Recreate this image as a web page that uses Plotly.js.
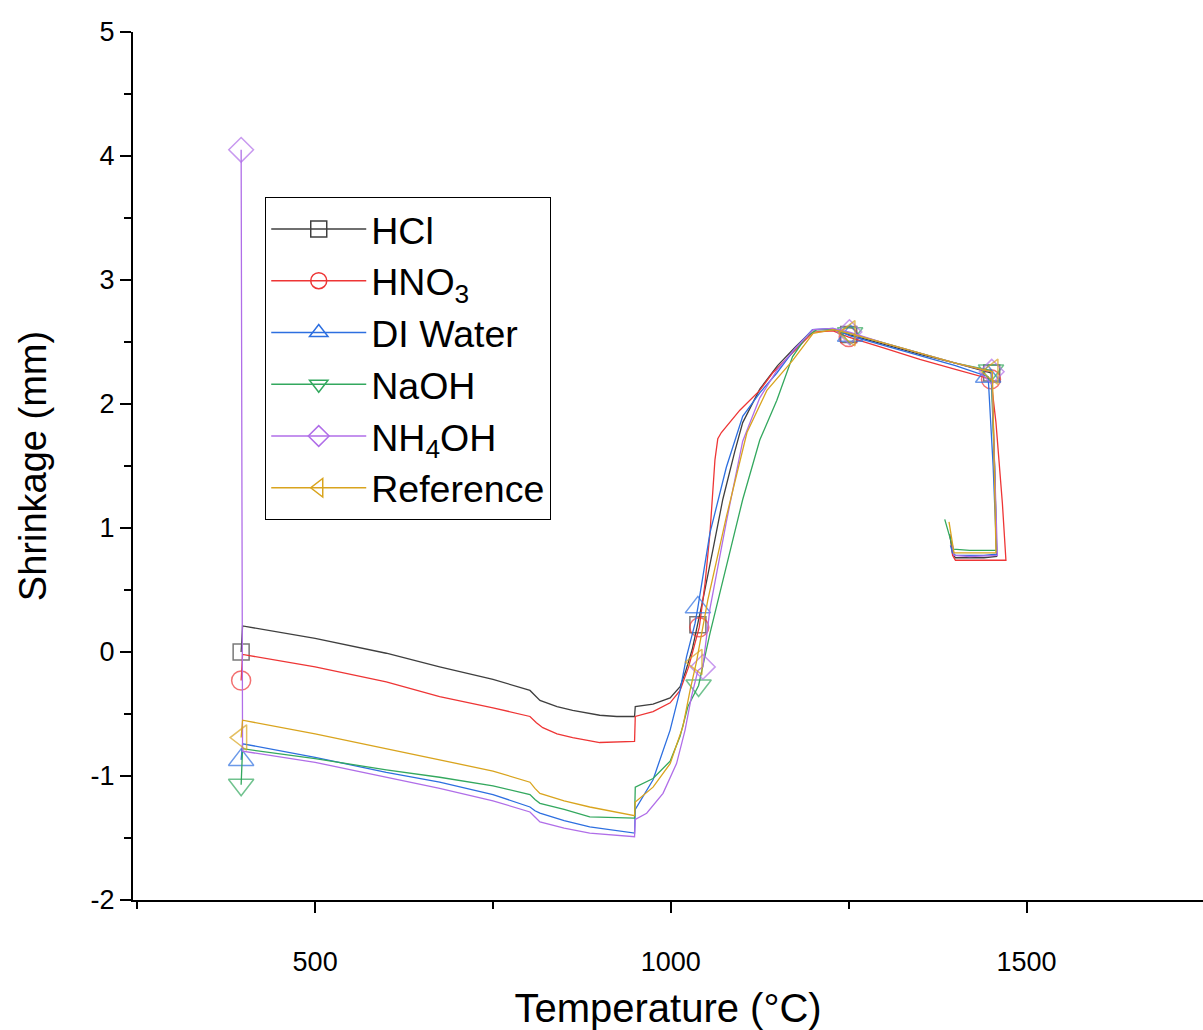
<!DOCTYPE html>
<html>
<head>
<meta charset="utf-8">
<script src="https://cdn.plot.ly/plotly-3.0.1.min.js"></script>
<style>
  html, body { margin: 0; padding: 0; background: #ffffff; }
  #chart { width: 1203px; height: 1030px; }
</style>
</head>
<body>
<div id="chart"></div>
<script>
// ---- Data ----
const seriesNames = ["HCl", "HNO<sub>3</sub>", "DI Water", "NaOH", "NH<sub>4</sub>OH", "Reference"];

const hclT = [396, 398, 500, 600, 675, 750, 802, 809, 816, 840, 862, 900, 924, 949, 950, 975, 999, 1013, 1020, 1030, 1038, 1045, 1060, 1073, 1090, 1101, 1125, 1150, 1175, 1200, 1228, 1250, 1300, 1350, 1400, 1451, 1455, 1458, 1440, 1400, 1396, 1392];
const hclS = [0.00, 0.21, 0.11, -0.01, -0.12, -0.22, -0.31, -0.35, -0.39, -0.44, -0.47, -0.51, -0.52, -0.52, -0.44, -0.42, -0.37, -0.28, -0.17, 0.02, 0.22, 0.42, 0.85, 1.23, 1.62, 1.85, 2.12, 2.31, 2.46, 2.60, 2.60, 2.56, 2.48, 2.40, 2.33, 2.25, 1.50, 0.77, 0.76, 0.76, 0.79, 0.95];
const hclMarks = [0, 20, 31, 35];

const hno3T = [396, 398, 500, 600, 675, 750, 802, 811, 820, 840, 862, 900, 949, 950, 975, 999, 1013, 1025, 1040, 1048, 1055, 1062, 1066, 1071, 1097, 1125, 1143, 1171, 1200, 1228, 1250, 1300, 1350, 1400, 1450, 1457, 1466, 1471, 1440, 1400, 1396, 1394];
const hno3S = [-0.23, -0.02, -0.12, -0.24, -0.36, -0.45, -0.52, -0.57, -0.61, -0.66, -0.69, -0.73, -0.72, -0.52, -0.48, -0.41, -0.31, -0.12, 0.20, 0.55, 0.96, 1.55, 1.72, 1.77, 1.95, 2.11, 2.25, 2.41, 2.58, 2.59, 2.54, 2.45, 2.36, 2.28, 2.20, 1.85, 1.20, 0.74, 0.74, 0.74, 0.78, 0.90];
const hno3Marks = [0, 18, 30, 34];

const diT = [396, 398, 500, 600, 675, 750, 802, 809, 816, 850, 886, 949, 950, 975, 999, 1013, 1022, 1034, 1038, 1055, 1078, 1101, 1125, 1149, 1175, 1199, 1228, 1252, 1300, 1350, 1400, 1446, 1453, 1458, 1440, 1400, 1396, 1393];
const diS = [-0.87, -0.74, -0.85, -0.97, -1.05, -1.15, -1.25, -1.28, -1.30, -1.36, -1.41, -1.46, -1.27, -1.03, -0.63, -0.31, -0.04, 0.23, 0.36, 0.96, 1.49, 1.90, 2.09, 2.25, 2.45, 2.60, 2.61, 2.55, 2.47, 2.39, 2.31, 2.22, 1.50, 0.79, 0.78, 0.78, 0.80, 0.86];
const diMarks = [0, 18, 27, 31];

const naohT = [396, 398, 500, 600, 675, 750, 802, 809, 816, 850, 886, 949, 950, 975, 999, 1013, 1024, 1039, 1055, 1078, 1101, 1125, 1149, 1171, 1190, 1205, 1228, 1252, 1300, 1350, 1400, 1450, 1455, 1458, 1420, 1397, 1385];
const naohS = [-1.07, -0.78, -0.86, -0.95, -1.01, -1.08, -1.15, -1.19, -1.22, -1.27, -1.33, -1.34, -1.09, -1.02, -0.88, -0.68, -0.44, -0.27, 0.15, 0.69, 1.23, 1.71, 2.03, 2.38, 2.54, 2.60, 2.60, 2.57, 2.49, 2.41, 2.33, 2.27, 1.50, 0.82, 0.82, 0.83, 1.07];
const naohMarks = [0, 17, 27, 31];

const nh4ohT = [396, 398, 500, 600, 675, 750, 802, 809, 816, 850, 886, 949, 950, 966, 989, 1008, 1020, 1029, 1038, 1045, 1055, 1078, 1101, 1125, 1150, 1175, 1200, 1228, 1251, 1300, 1350, 1400, 1451, 1455, 1459, 1420, 1398, 1396];
const nh4ohS = [4.05, -0.80, -0.89, -1.01, -1.10, -1.20, -1.29, -1.33, -1.37, -1.42, -1.46, -1.49, -1.35, -1.30, -1.14, -0.90, -0.63, -0.36, -0.15, -0.12, 0.35, 1.05, 1.70, 2.05, 2.28, 2.45, 2.60, 2.61, 2.58, 2.49, 2.41, 2.33, 2.26, 1.50, 0.78, 0.77, 0.78, 0.86];
const nh4ohMarks = [0, 19, 28, 32];

const refT = [396, 398, 500, 600, 675, 750, 802, 809, 816, 850, 886, 949, 950, 975, 999, 1017, 1027, 1036, 1052, 1078, 1107, 1135, 1171, 1200, 1228, 1251, 1300, 1350, 1400, 1452, 1455, 1457, 1420, 1398, 1391];
const refS = [-0.69, -0.55, -0.66, -0.78, -0.87, -0.96, -1.05, -1.10, -1.14, -1.20, -1.25, -1.32, -1.21, -1.09, -0.90, -0.60, -0.31, -0.08, 0.42, 1.09, 1.77, 2.11, 2.35, 2.57, 2.60, 2.57, 2.49, 2.41, 2.33, 2.26, 1.50, 0.80, 0.80, 0.80, 1.05];
const refMarks = [0, 17, 25, 29];

const xTickVals = [500, 1000, 1500];
const xTickText = ["500", "1000", "1500"];
const yTickVals = [-2, -1, 0, 1, 2, 3, 4, 5];
const yTickText = ["-2", "-1", "0", "1", "2", "3", "4", "5"];

// ---- Styles ----
const FONT = '"Liberation Sans", Arial, Helvetica, sans-serif';
const styles = [
  { color: '#3f3f3f', symbol: 'square-open',        size: 16 },
  { color: '#ee3535', symbol: 'circle-open',        size: 19 },
  { color: '#2d6fe0', symbol: 'triangle-up-open',   size: 22 },
  { color: '#33a85e', symbol: 'triangle-down-open', size: 22 },
  { color: '#b06ee8', symbol: 'diamond-open',       size: 19 },
  { color: '#d9a41e', symbol: 'triangle-left-open', size: 22 }
];
const dataSets = [
  [hclT, hclS, hclMarks],
  [hno3T, hno3S, hno3Marks],
  [diT, diS, diMarks],
  [naohT, naohS, naohMarks],
  [nh4ohT, nh4ohS, nh4ohMarks],
  [refT, refS, refMarks]
];

const traces = [];
dataSets.forEach(([xs, ys, marks], i) => {
  const st = styles[i];
  const sizes = xs.map((_, k) => marks.includes(k) ? st.size : 0);
  traces.push({
    type: 'scatter', mode: 'lines+markers',
    x: xs, y: ys, name: seriesNames[i],
    legendgroup: 'g' + i, showlegend: false,
    line: { color: st.color, width: 1.3 },
    marker: { symbol: st.symbol, size: sizes, color: st.color, line: { width: 1.5, color: st.color } },
    hoverinfo: 'skip'
  });
});
// legend entries (no data of their own)
dataSets.forEach((_, i) => {
  const st = styles[i];
  traces.push({
    type: 'scatter', mode: 'lines+markers',
    x: [null], y: [null], name: seriesNames[i],
    legendgroup: 'g' + i, showlegend: true,
    line: { color: st.color, width: 1.3 },
    marker: { symbol: st.symbol, size: st.size, color: st.color, line: { width: 1.5, color: st.color } }
  });
});

const layout = {
  width: 1203, height: 1030,
  margin: { l: 133, r: 0, t: 32, b: 130 },
  paper_bgcolor: '#ffffff', plot_bgcolor: '#ffffff',
  font: { family: FONT, color: '#000000' },
  showlegend: true,
  legend: {
    x: 0.1234, y: 0.81, xanchor: 'left', yanchor: 'top',
    bgcolor: '#ffffff', bordercolor: '#000000', borderwidth: 1.2,
    font: { family: FONT, size: 37.5, color: '#000000' },
    itemwidth: 95, tracegroupgap: 0
  },
  xaxis: {
    range: [244, 1748],
    tickmode: 'array', tickvals: xTickVals, ticktext: xTickText,
    ticks: 'outside', ticklen: 11, tickwidth: 2, tickcolor: '#000',
    minor: { dtick: 250, tick0: 0, ticks: 'outside', ticklen: 7, tickwidth: 2, tickcolor: '#000' },
    showline: true, linecolor: '#000', linewidth: 2, mirror: false,
    showgrid: false, zeroline: false,
    tickfont: { family: FONT, size: 27, color: '#000' },
    ticklabelstandoff: 26,
    title: { text: 'Temperature (°C)', font: { family: FONT, size: 40, color: '#000' }, standoff: 20 }
  },
  yaxis: {
    range: [-2, 5],
    tickmode: 'array', tickvals: yTickVals, ticktext: yTickText,
    ticks: 'outside', ticklen: 11, tickwidth: 2, tickcolor: '#000',
    minor: { dtick: 0.5, tick0: 0, ticks: 'outside', ticklen: 7, tickwidth: 2, tickcolor: '#000' },
    showline: true, linecolor: '#000', linewidth: 2, mirror: false,
    showgrid: false, zeroline: false,
    tickfont: { family: FONT, size: 27, color: '#000' },
    title: { text: 'Shrinkage (mm)', font: { family: FONT, size: 38, color: '#000' }, standoff: 32 }
  }
};

Plotly.newPlot('chart', traces, layout, { displayModeBar: false, staticPlot: true });
</script>
</body>
</html>
